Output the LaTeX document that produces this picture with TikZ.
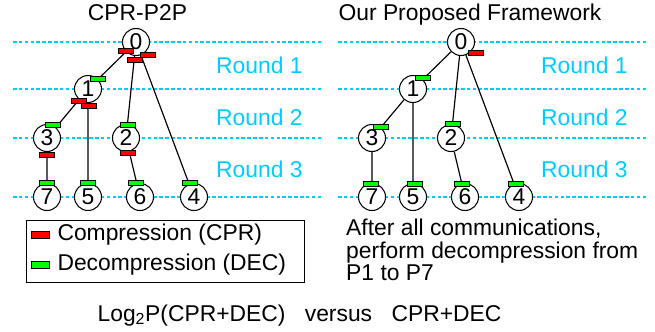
\documentclass[tikz,border=0pt]{standalone}
\usepackage{fontspec}
\setmainfont{Liberation Sans}
\usepackage{xcolor}
\usetikzlibrary{positioning}
\definecolor{roundblue}{RGB}{0,204,255}
\definecolor{cprred}{RGB}{255,0,0}
\definecolor{decgreen}{RGB}{0,255,0}
\tikzset{
	proc/.style={circle,draw,line width=0.9pt,fill=white,minimum size=0.81cm,inner sep=0pt},
	cpr/.style={rectangle,draw,line width=0.5pt,fill=cprred,minimum width=0.45cm,minimum height=0.15cm,inner sep=0pt},
	dec/.style={cpr,fill=decgreen},
	roundline/.style={roundblue,line width=1.7pt,dash pattern=on 3pt off 2pt},
	roundtext/.style={text=roundblue,anchor=base west,inner sep=0pt},
}

\begin{document}
\begin{tikzpicture}[x=0.03cm,y=-0.03cm,font=\fontsize{19.5pt}{19.2pt}\selectfont]
		\useasboundingbox (0,0) rectangle (655,331);
		\pgfmathsetmacro{\shiftR}{325}
		
		% round borders
		\foreach \y in {42,89,138,197} {
			\draw[roundline] (13,\y) -- (322,\y);
			\draw[roundline] (\shiftR+13,\y) -- (\shiftR+322,\y);
		}
		\foreach \r/\y in {1/73,2/125,3/177} {
			\node[roundtext] (lround\r) at (216,\y) {Round \r};
			\node[roundtext] (rround\r) at (\shiftR+216,\y) {Round \r};
		}
		
		\node[anchor=base,inner sep=0pt] (ltitle) at (137.5,20.5) {CPR-P2P};
		\node[anchor=base,inner sep=0pt] (rtitle) at (470,20.5) {Our Proposed Framework};
		
		% the two trees
		\foreach \p/\dx in {l/0,r/\shiftR} {
			\foreach \n/\x/\y in {0/136/42,1/88/89,3/47/138,2/126/138,7/47/197,5/88/197,6/140/197,4/194/197} {
				\node[proc] (\p\n) at (\dx+\x,\y) {\n};
			}
			\draw[line width=1pt] (\p0) -- (\p1) (\p0) -- (\p2) (\p0) -- (\p4)
				(\p1) -- (\p3) (\p1) -- (\p5) (\p3) -- (\p7) (\p2) -- (\p6);
		}
		
		% compression / decompression steps
		\foreach \x/\y [count=\i] in {125.5/51,135/59.5,148/55,79/101,89/106,47/155,128/153} {
			\node[cpr] (lcpr\i) at (\x,\y) {};
		}
		\foreach \x/\y [count=\i] in {98/79,53/125,128/125,47/183,88/183,136/183,190/183} {
			\node[dec] (ldec\i) at (\x,\y) {};
		}
		\node[cpr] (rcpr1) at (476,53) {};
		\foreach \x/\y [count=\i] in {423/78,381/127,453/124,371/184,415/184,462/184,516/184} {
			\node[dec] (rdec\i) at (\x,\y) {};
		}
		
		% legend
		\draw[line width=0.8pt] (26,220) rectangle (304,282);
		\node[cpr,minimum width=0.54cm,minimum height=0.21cm] (keycpr) at (40,235) {};
		\node[dec,minimum width=0.54cm,minimum height=0.21cm] (keydec) at (40,265) {};
		\node[right=0.24cm of keycpr,inner sep=0pt] (txtcpr) {Compression (CPR)};
		\node[right=0.24cm of keydec,inner sep=0pt] (txtdec) {Decompression (DEC)};
		
		\node[anchor=north west,align=left,inner sep=0pt] (note) at (346,219)
			{After all communications,\\perform decompression from\\P1 to P7};
		\node[anchor=base,inner sep=0pt] (caption) at (299.5,321)
			{Log\textsubscript{2}P(CPR+DEC)\hspace{0.85em}versus\hspace{0.85em}CPR+DEC};
	\end{tikzpicture}
\end{document}
